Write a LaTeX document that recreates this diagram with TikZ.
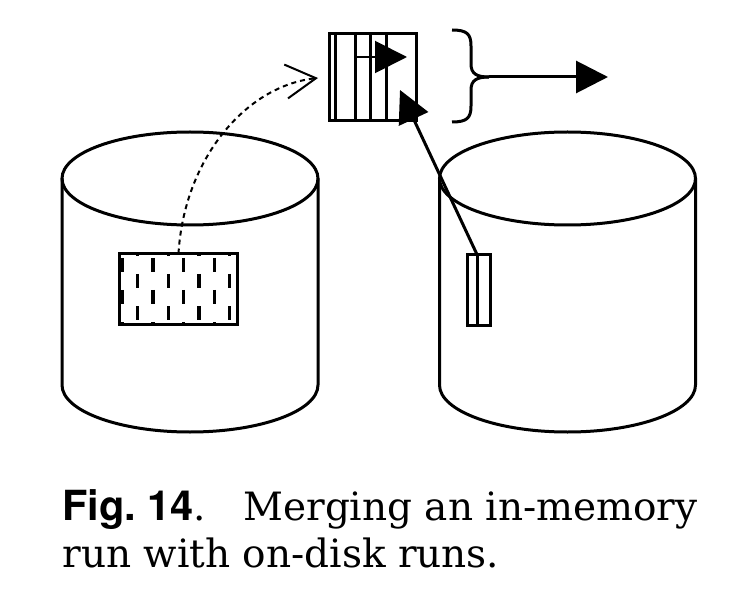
\documentclass[tikz,border=0pt]{standalone}
\usepackage{fontspec}
\setmainfont{DejaVu Serif}
\newfontfamily\heros{TeX Gyre Heros}
\usetikzlibrary{arrows.meta}
\begin{document}
\begin{tikzpicture}[x=1pt, y=-1pt, line width=3pt,
  box/.style={draw, inner sep=0pt, outer sep=0pt},
  bigtip/.style={-{Triangle[length=32pt,width=32pt]}},
  captxt/.style={anchor=base west, inner sep=0pt, font=\fontsize{39}{47}\selectfont}]
\useasboundingbox (0,0) rectangle (742,604);
% disks
\foreach \cx in {190,567.5}{
  \draw (\cx,178.5) ellipse [x radius=128, y radius=46.5];
  \draw (\cx-128,178.5) -- (\cx-128,385) arc[start angle=180, end angle=0, x radius=128, y radius=47] -- (\cx+128,178.5);
}
% in-memory run on disk (hatched)
\begin{scope}
  \clip (119.5,253.5) rectangle (237.5,324.5);
  \foreach \x in {122.4,153,183.6,214.2,244.8}
    \foreach \y in {265,297,329}
      \draw[line width=3.3pt] (\x,\y-7) -- (\x,\y+7);
  \foreach \x in {107.1,137.7,168.3,198.9,229.5}
    \foreach \y in {249,281,313}
      \draw[line width=3.3pt] (\x,\y-7) -- (\x,\y+7);
\end{scope}
\node[box, minimum width=118pt, minimum height=71pt] (memrun) at (178.5,289) {};
% on-disk run
\node[box, minimum width=23pt, minimum height=71pt] (diskrun) at (479,290) {};
\draw (477,254.5) -- (477,325.5);
% merge buffer
\node[box, minimum width=87pt, minimum height=87pt] (buf) at (373.3,77) {};
\foreach \x in {335,355,370,386}
  \draw (\x,33.5) -- (\x,120.5);
\coordinate (ia0) at (357,57);
\coordinate (ia1) at (407,57);
\draw[bigtip, line width=2pt] (ia0) -- (ia1);
% arrow from on-disk run to buffer
\coordinate (rtop) at (477,254.5);
\coordinate (bufB) at (400,90);
\draw[bigtip] (rtop) -- (bufB);
% dashed arrow from memory run to buffer
\coordinate (bufin) at (318,78);
\draw[line width=2pt, dash pattern=on 5pt off 4pt,
  -{Straight Barb[length=30pt,width=34pt,line width=2pt]}]
  (memrun.north) .. controls (184,160) and (245,86) .. (bufin);
% brace
\coordinate (bm) at (489,77);
\draw (452,30) .. controls (467,30) and (471,34) .. (471,46) -- (471,64)
  .. controls (471,74) and (477,77) .. (bm);
\draw (452,122) .. controls (467,122) and (471,118) .. (471,106) -- (471,90)
  .. controls (471,80) and (477,77) .. (bm);
\coordinate (outp) at (608,77);
\draw[bigtip] (bm) -- (outp);
% caption
\node[captxt] (cap1) at (61,520) {{\heros\bfseries\fontsize{41.5}{47}\selectfont Fig.\ 14}.\hspace{37pt}Merging an in-memory};
\node[captxt] (cap2) at (61,567) {run with on-disk runs.};
\end{tikzpicture}
\end{document}
